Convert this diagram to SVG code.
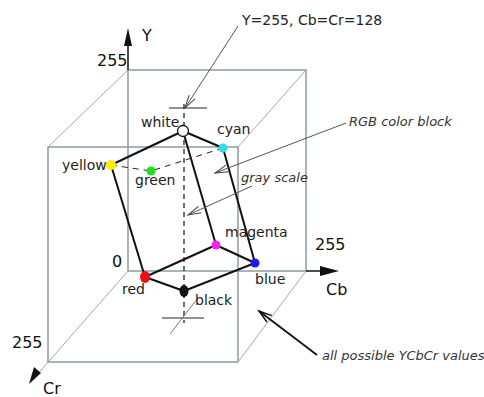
<svg xmlns="http://www.w3.org/2000/svg" width="484" height="397" viewBox="0 0 484 397">
<defs>
<style>
.box{stroke:#8c9aa5;stroke-width:1.5;fill:none}
.diag{stroke:#a8a8a8;stroke-width:1;fill:none}
.edge{stroke:#111;stroke-width:2;fill:none;stroke-linecap:round}
.hid{stroke:#222;stroke-width:1;stroke-dasharray:6,5;fill:none}
.lead{stroke:#555;stroke-width:1;fill:none}
.t{font-family:"DejaVu Sans",Verdana,sans-serif;font-size:14px;fill:#222}
.ax{font-family:"DejaVu Sans",Verdana,sans-serif;font-size:16px;fill:#111}
.it{font-family:"DejaVu Sans",Verdana,sans-serif;font-size:13px;font-style:italic;fill:#333}
</style>
<marker id="open" markerUnits="userSpaceOnUse" markerWidth="20" markerHeight="14" refX="0" refY="0" viewBox="-14 -7 16 14" orient="auto" overflow="visible">
<path d="M-13,-3.5 L0,0 L-13,3.5" fill="none" stroke="#444" stroke-width="1"/>
</marker>
<marker id="openbold" markerUnits="userSpaceOnUse" markerWidth="20" markerHeight="14" viewBox="-14 -7 16 14" refX="0" refY="0" orient="auto" overflow="visible">
<path d="M-13,-4 L0,0 L-13,4" fill="none" stroke="#111" stroke-width="1.5"/>
</marker>
</defs>
<rect width="484" height="397" fill="#fff"/>

<g id="cube">
<rect class="box" x="128" y="70" width="178" height="201"/>
<rect class="box" x="48" y="147" width="190" height="215" stroke="#a9b3ba"/>
<line class="diag" x1="128" y1="70" x2="48" y2="147"/>
<line class="diag" x1="306" y1="70" x2="238" y2="147"/>
<line class="diag" x1="306" y1="271" x2="238" y2="362"/>
<line class="diag" x1="128" y1="271" x2="36" y2="376"/>
</g>

<g id="axes">
<line x1="128" y1="70" x2="128" y2="44" stroke="#111" stroke-width="1.5"/>
<path d="M128,28 L132,46 L124,46 Z" fill="#111"/>
<line x1="306" y1="271" x2="322" y2="271" stroke="#111" stroke-width="1.5"/>
<path d="M339,271 L320,266 L320,276 Z" fill="#111"/>
<path d="M29,384 L34,367 L41,373 Z" fill="#111"/>
<text class="ax" x="142" y="41">Y</text>
<text class="ax" x="97" y="66">255</text>
<text class="ax" x="112" y="267">0</text>
<text class="ax" x="315" y="250">255</text>
<text class="ax" x="326" y="295">Cb</text>
<text class="ax" x="12" y="348">255</text>
<text class="ax" x="43" y="394">Cr</text>
</g>

<g id="connectors">
<line x1="184" y1="104" x2="184" y2="323" stroke="#111" stroke-width="1.2" stroke-dasharray="5,4"/>
<line x1="169" y1="108" x2="207" y2="108" stroke="#222" stroke-width="1"/>
<line x1="162" y1="318" x2="204" y2="318" stroke="#222" stroke-width="1"/>
<line x1="170" y1="334" x2="197" y2="299" stroke="#777" stroke-width="1"/>
<line class="edge" x1="111" y1="165" x2="183" y2="131"/>
<line class="edge" x1="183" y1="131" x2="223" y2="148"/>
<line class="edge" x1="111" y1="165" x2="145" y2="277"/>
<line class="edge" x1="183" y1="131" x2="216" y2="245"/>
<line class="edge" x1="223" y1="148" x2="255" y2="263"/>
<line class="edge" x1="145" y1="277" x2="216" y2="245"/>
<line class="edge" x1="216" y1="245" x2="255" y2="263"/>
<line class="edge" x1="145" y1="277" x2="184" y2="291"/>
<line class="edge" x1="184" y1="291" x2="255" y2="263"/>
<polyline class="hid" points="111,165 151,171 223,148"/>
<line class="lead" x1="238" y1="26" x2="185" y2="108" marker-end="url(#open)"/>
<line class="lead" x1="346" y1="123" x2="215" y2="173" marker-end="url(#open)"/>
<line class="lead" x1="252" y1="186" x2="188" y2="215" marker-end="url(#open)"/>
<line x1="317" y1="355" x2="259" y2="311" stroke="#111" stroke-width="1.8" marker-end="url(#openbold)"/>
</g>

<g id="label-top"><text class="t" x="242" y="25">Y=255, Cb=Cr=128</text></g>
<g id="label-rgb"><text class="it" x="349" y="126">RGB color block</text></g>
<g id="label-gray"><text class="it" x="241" y="182">gray scale</text></g>
<g id="label-all"><text class="it" x="322" y="360">all possible YCbCr values</text></g>

<g id="white"><circle cx="183" cy="131" r="5.5" fill="#fff" stroke="#111" stroke-width="1.3"/><text class="t" x="141" y="127">white</text></g>
<g id="cyan"><circle cx="223" cy="148" r="4.5" fill="#30dcec"/><text class="t" x="217" y="134">cyan</text></g>
<g id="yellow"><circle cx="111" cy="165" r="5" fill="#ffee00"/><text class="t" x="62" y="170">yellow</text></g>
<g id="green"><circle cx="151" cy="171" r="4.5" fill="#22dd22"/><text class="t" x="135" y="185">green</text></g>
<g id="magenta"><circle cx="216" cy="245" r="4.5" fill="#ff22ee"/><text class="t" x="225" y="237">magenta</text></g>
<g id="blue"><circle cx="255" cy="263" r="4.5" fill="#1a1aee"/><text class="t" x="255" y="284">blue</text></g>
<g id="red"><ellipse cx="145" cy="277" rx="5" ry="6" fill="#ee1111"/><text class="t" x="122" y="294">red</text></g>
<g id="black"><ellipse cx="184" cy="291" rx="4.5" ry="6" fill="#111"/><text class="t" x="195" y="305">black</text></g>
</svg>
